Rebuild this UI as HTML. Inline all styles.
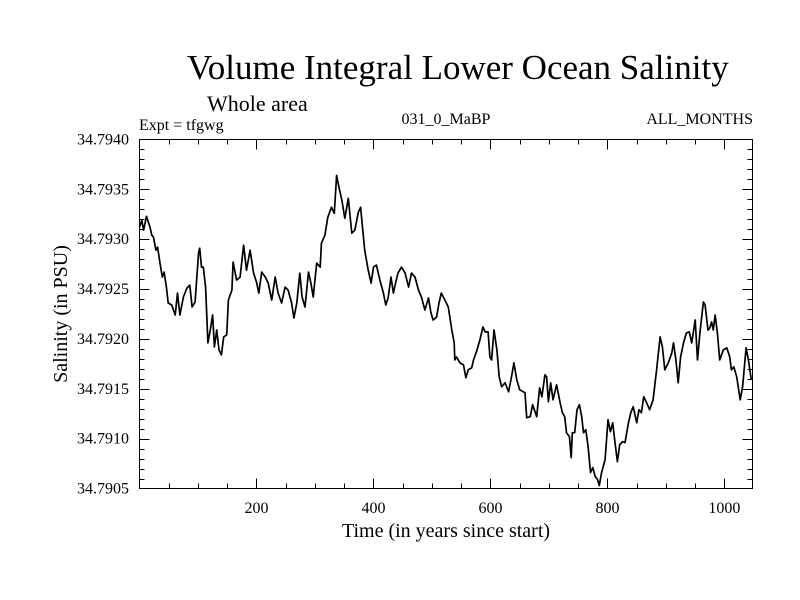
<!DOCTYPE html>
<html><head><meta charset="utf-8"><style>
body{margin:0;background:#fff}
svg{display:block;font-family:"Liberation Serif",serif}
</style></head><body>
<svg id="chart" width="800" height="600" viewBox="0 0 800 600">
<rect width="800" height="600" fill="#fff"/>
<text x="187" y="79" font-size="35">Volume Integral Lower Ocean Salinity</text>
<text x="207" y="111" font-size="22">Whole area</text>
<text x="139" y="130" font-size="16">Expt = tfgwg</text>
<text x="446" y="124" font-size="16" text-anchor="middle">031_0_MaBP</text>
<text x="753" y="124" font-size="16" text-anchor="end">ALL_MONTHS</text>
<text x="446" y="537" font-size="20" text-anchor="middle">Time (in years since start)</text>
<text x="0" y="0" font-size="20" text-anchor="middle" transform="translate(67,314) rotate(-90)">Salinity (in PSU)</text>
<g id="ticks"></g>
<path id="series" fill="none" stroke="#000" stroke-width="1.7" stroke-linejoin="round"/>
<rect x="139.5" y="139.5" width="613" height="349" fill="none" stroke="#000" stroke-width="1"/>
</svg>
<script>
const years=[0,4,7,12,18,21,24,28,31,35,39,42,46,49,55,61,65,69,75,81,86,90,95,101,103,106,109,113,117,121,125,128,132,136,140,144,149,152,158,160,166,172,178,183,189,195,200,204,209,215,220,226,232,237,243,249,254,260,264,269,274,278,283,289,293,297,303,309,311,317,322,328,333,337,341,346,351,357,363,368,374,378,385,391,396,400,405,411,417,421,425,430,434,437,442,448,454,460,465,471,477,482,488,494,498,502,508,512,516,522,528,534,538,539,542,548,554,558,562,568,571,576,582,587,591,596,599,602,606,611,615,619,625,631,636,640,645,650,659,662,668,672,679,684,688,693,696,699,703,707,713,719,723,727,730,735,738,740,744,748,752,756,759,763,767,771,775,779,783,786,790,796,801,805,809,813,817,821,826,830,836,840,844,850,854,858,862,867,872,878,884,890,894,898,904,910,913,917,921,925,930,935,940,944,950,954,958,964,967,972,975,978,981,984,988,992,998,1004,1009,1012,1016,1021,1027,1031,1037,1041,1046];
const salinity=[34.79312,34.79319,34.79309,34.79323,34.79312,34.79304,34.79302,34.79289,34.79292,34.79276,34.79262,34.79267,34.79252,34.79236,34.79234,34.79224,34.79246,34.79224,34.79242,34.79251,34.79254,34.79232,34.79237,34.79287,34.79291,34.79272,34.79272,34.79252,34.79196,34.79209,34.79224,34.79192,34.79209,34.79189,34.79184,34.79202,34.79204,34.79239,34.79249,34.79277,34.79259,34.79262,34.79294,34.79269,34.79289,34.79266,34.79257,34.79246,34.79267,34.79262,34.79256,34.79239,34.79262,34.79246,34.79236,34.79252,34.79249,34.79236,34.79221,34.79236,34.79266,34.79242,34.79232,34.79267,34.79256,34.79242,34.79276,34.79272,34.79296,34.79304,34.79322,34.79332,34.79326,34.79364,34.79352,34.79339,34.79321,34.79341,34.79306,34.79309,34.79327,34.79332,34.79289,34.79269,34.79256,34.79272,34.79274,34.79259,34.79246,34.79234,34.79241,34.79262,34.79246,34.79254,34.79266,34.79272,34.79266,34.79252,34.79266,34.79262,34.79249,34.79242,34.79229,34.79241,34.79227,34.79219,34.79222,34.79236,34.79246,34.79239,34.79232,34.79209,34.79196,34.79179,34.79182,34.79176,34.79174,34.79161,34.79169,34.79171,34.79179,34.79187,34.79199,34.79212,34.79207,34.79207,34.79182,34.79179,34.79209,34.79189,34.79162,34.79152,34.79156,34.79147,34.79162,34.79176,34.79159,34.79149,34.79146,34.79121,34.79122,34.79134,34.79122,34.79151,34.79142,34.79164,34.79162,34.79137,34.79156,34.79139,34.79154,34.79136,34.79126,34.79122,34.79106,34.79102,34.79081,34.79106,34.79106,34.79129,34.79134,34.79122,34.79106,34.79109,34.79092,34.79066,34.79071,34.79062,34.79059,34.79053,34.79066,34.79079,34.79119,34.79107,34.79116,34.79096,34.79077,34.79094,34.79097,34.79096,34.79116,34.79126,34.79132,34.79116,34.79129,34.79126,34.79142,34.79136,34.79129,34.79139,34.79169,34.79202,34.79192,34.79169,34.79176,34.79186,34.79196,34.79179,34.79156,34.79182,34.79196,34.79206,34.79207,34.79196,34.79219,34.79179,34.79206,34.79237,34.79234,34.79209,34.79211,34.79217,34.79209,34.79224,34.79206,34.79179,34.79189,34.79191,34.79182,34.79169,34.79172,34.79162,34.79139,34.79152,34.79191,34.79179,34.79159];
const xTickValues=[200,400,600,800,1000];
const xTickLabels=["200","400","600","800","1000"];
const yTickValues=[34.7905,34.7910,34.7915,34.7920,34.7925,34.7930,34.7935,34.7940];
const yTickLabels=["34.7905","34.7910","34.7915","34.7920","34.7925","34.7930","34.7935","34.7940"];

const L=139.5,R=752.5,T=139.5,B=488.5,XMIN=0,XMAX=1048,YMIN=34.7905,YMAX=34.7940;
const sx=v=>L+(v-XMIN)/(XMAX-XMIN)*(R-L);
const sy=v=>B-(v-YMIN)/(YMAX-YMIN)*(B-T);
const NS="http://www.w3.org/2000/svg";
const g=document.getElementById('ticks');
function line(x1,y1,x2,y2,name){
  const l=document.createElementNS(NS,'line');
  l.setAttribute('x1',x1);l.setAttribute('y1',y1);l.setAttribute('x2',x2);l.setAttribute('y2',y2);
  l.setAttribute('stroke','#000');l.setAttribute('stroke-width','1');
  
  
  g.appendChild(l);
}
function text(x,y,s,anchor,name){
  const t=document.createElementNS(NS,'text');
  t.setAttribute('x',x);t.setAttribute('y',y);t.setAttribute('font-size','16');t.setAttribute('text-anchor',anchor);
  t.textContent=s;
  
  
  g.appendChild(t);
}
for(let v=50;v<XMAX;v+=50){
  const x=Math.round(sx(v))+0.5, len=(v%200===0)?10:5;
  line(x,B,x,B-len,'x-tick');
  line(x,T,x,T+len,'x-tick-top');
}
for(let i=1;i<35;i++){
  const v=YMIN+i*0.0001, y=Math.round(sy(v))+0.5, len=(i%5===0)?10:5;
  line(L,y,L+len,y,'y-tick');
  line(R,y,R-len,y,'y-tick-right');
}
xTickValues.forEach((v,i)=>text(sx(v),513,xTickLabels[i],'middle','x-tick-label'));
yTickValues.forEach((v,i)=>text(129,sy(v)+5,yTickLabels[i],'end','y-tick-label'));
let d='';
years.forEach((yr,i)=>{d+=(i?'L':'M')+sx(yr).toFixed(1)+','+sy(salinity[i]).toFixed(1);});
document.getElementById('series').setAttribute('d',d);
</script>
</body></html>
